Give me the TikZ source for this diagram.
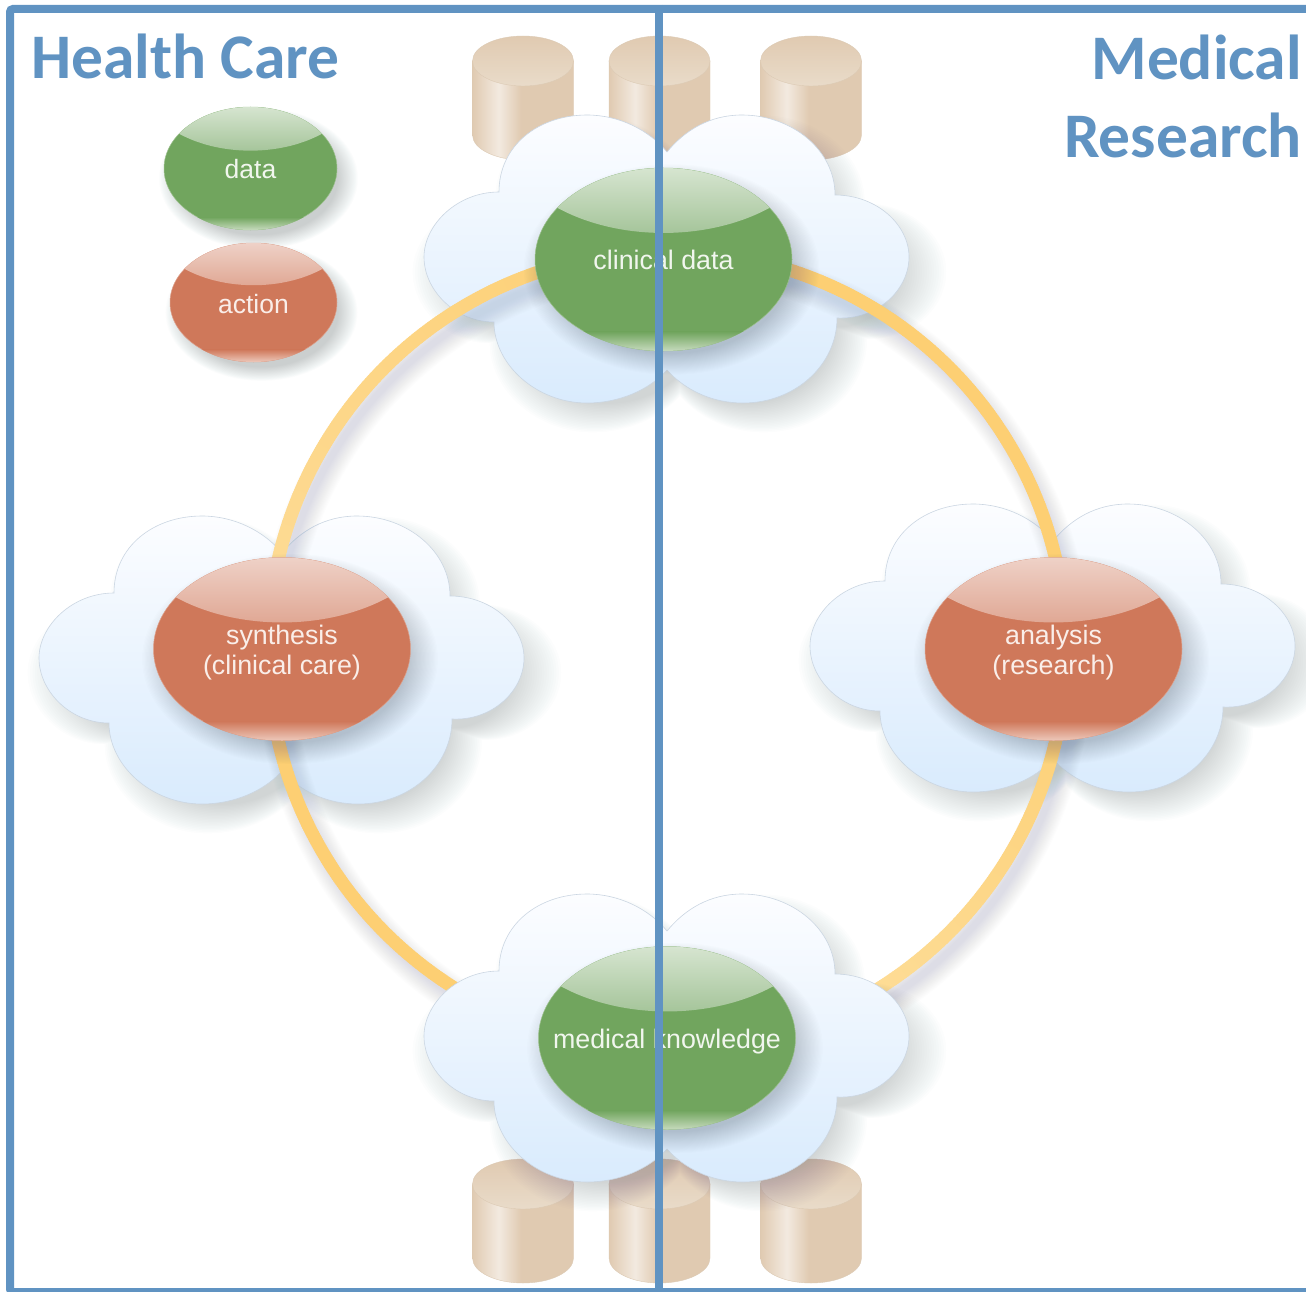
\documentclass[tikz,border=0pt]{standalone}
\usepackage{fontspec}
\setmainfont{Liberation Sans}
\newfontfamily\ttlfont{Carlito}
\usetikzlibrary{shapes.geometric,decorations.markings}
\pgfdeclarelayer{cyl}\pgfdeclarelayer{clouds}\pgfdeclarelayer{ringsh}\pgfdeclarelayer{ring}
\pgfdeclarelayer{cloudb}\pgfdeclarelayer{blobsh}\pgfdeclarelayer{gloss}\pgfdeclarelayer{frame}
\pgfsetlayers{cyl,clouds,ringsh,ring,cloudb,blobsh,main,gloss,frame}
\definecolor{framec}{HTML}{6093C2}
\definecolor{grnbase}{HTML}{71A55E}
\definecolor{grnhi}{HTML}{D8E6D2}
\definecolor{grnlo}{HTML}{9BBE8F}
\definecolor{grnend}{HTML}{CFE0C7}
\definecolor{grntxt}{HTML}{F1F6EE}
\definecolor{redbase}{HTML}{CF785A}
\definecolor{redhi}{HTML}{EFD3C9}
\definecolor{redlo}{HTML}{DD9F8A}
\definecolor{redend}{HTML}{F0D0C4}
\definecolor{redtxt}{HTML}{FAEEE9}
\definecolor{shadowc}{HTML}{4A5A70}
\definecolor{cloudtop}{HTML}{FCFDFF}
\definecolor{cloudbot}{HTML}{D9EBFD}
\definecolor{cloudedge}{HTML}{CBD6E2}
\definecolor{cyltopa}{HTML}{E0CAB1}
\definecolor{cyltopb}{HTML}{E9DBC9}
\definecolor{cyledge}{HTML}{DCCAB4}
\definecolor{ringa}{HTML}{FDCF73}
\definecolor{ringb}{HTML}{FEE3A8}
\definecolor{ringc}{HTML}{FDDC98}
\pgfdeclarehorizontalshading{cylside}{100bp}{color(0bp)=(cyltopa); color(25bp)=(cyltopa); color(38bp)=(white!60!cyltopa); color(49bp)=(cyltopa); color(75bp)=(cyltopa); color(100bp)=(cyltopa)}
\tikzset{
  blobnode/.style={shape=ellipse,inner sep=0pt,outer sep=0pt},
  labelstyle/.style={inner sep=0pt,align=center},
  cloudstyle/.style={top color=cloudtop,bottom color=cloudbot,draw=cloudedge,line width=0.6pt},
  titlestyle/.style={inner sep=0pt,text=framec,font={\ttlfont\bfseries\fontsize{63.5}{70}\selectfont}},
  framestyle/.style={draw=framec,line width=8pt},
  ringpiece/.style n args={2}{decorate,decoration={markings,
    mark=between positions 0 and 1 step 2pt with {
      \pgfmathsetmacro\ringp{100*(\pgfkeysvalueof{/pgf/decoration/mark info/distance from start}/\pgfdecoratedpathlength)}
      \colorlet{ringnow}{#2!\ringp!#1}
      \fill[ringnow] (-1.4,-6.5) rectangle (1.4,6.5);
    }}}
}
% cloud outline, centred on the current origin
\newcommand\cloudpath{(-168,-68) .. controls (-168,-115) and (-128,-145) .. (-80,-145)
  .. controls (-48,-145) and (-18,-130) .. (0,-108)
  .. controls (18,-130) and (43,-145) .. (75,-145)
  .. controls (125,-145) and (168,-110) .. (168,-65)
  .. controls (210,-65) and (242,-35) .. (242,-3)
  .. controls (242,30) and (210,60) .. (170,58)
  .. controls (170,105) and (128,143) .. (76,143)
  .. controls (45,143) and (18,130) .. (0,110)
  .. controls (-18,130) and (-48,143) .. (-80,143)
  .. controls (-130,143) and (-173,105) .. (-173,62)
  .. controls (-212,62) and (-243,30) .. (-243,-3)
  .. controls (-243,-35) and (-210,-68) .. (-168,-68) -- cycle}
\newcommand\softcloud[2]{%
  \foreach \s in {0.90,0.91,...,1.105}{
    \fill[shadowc,fill opacity=0.012,shift={(#1+13,#2+15)},scale=\s] \cloudpath;
  }
  \path[cloudstyle,shift={(#1,#2)}] \cloudpath;
}
\newcommand\cylinder[2]{%
  \begin{scope}[shift={(#1,#2)}]
    \path[draw=cyledge,line width=0.4pt,shading=cylside]
      (-50.5,0) -- (-50.5,74) .. controls (-50.5,87.8) and (-27.9,99) .. (0,99)
      .. controls (27.9,99) and (50.5,87.8) .. (50.5,74) -- (50.5,0) -- cycle;
    \path[draw=cyledge,line width=0.4pt,top color=cyltopa,bottom color=cyltopb]
      (0,0) ellipse [x radius=50.5,y radius=25];
  \end{scope}
}
% name, cx, cy, rx, ry, colour family, font size, label centre y, text
\newcommand\blob[9]{%
  \begin{pgfonlayer}{blobsh}
    \foreach \s in {0.92,0.93,...,1.155}{
      \fill[shadowc,fill opacity=0.012] (#2+8,#3+10) ellipse [x radius=#4*\s,y radius=#5*\s];
    }
  \end{pgfonlayer}
  \node[blobnode,minimum width=2*#4 pt,minimum height=2*#5 pt,
        fill=#6base,draw=#6base!70!white,line width=0.5pt] (#1) at (#2,#3) {};
  \begin{pgfonlayer}{gloss}
    \begin{scope}[shift={(#2,#3)},x=#4 pt,y=-#5 pt]
      \clip (0,0) ellipse [x radius=1,y radius=1];
      \shade[top color=#6hi,bottom color=#6lo]
        (-1.02,-1.03) -- (1.02,-1.03) -- (1.02,-0.75) .. controls (0.5,-0.137) and (-0.5,-0.137) .. (-1.02,-0.75) -- cycle;
      \shade[top color=#6base,bottom color=#6end] (-1.02,0.79) rectangle (1.02,1.02);
    \end{scope}
    \node[labelstyle,text=#6txt,font={\fontsize{#7}{30}\selectfont}] (#1label) at (#2,#8) {#9};
  \end{pgfonlayer}
}
\begin{document}
\begin{tikzpicture}[x=1pt,y=-1pt]
\useasboundingbox (0,0) rectangle (1306,1292);
\begin{pgfonlayer}{cyl}
  \fill[white] (0,0) rectangle (1306,1292);
  \foreach \cx in {523,659.5,811}{
    \cylinder{\cx}{61}
    \cylinder{\cx}{1184}
  }
\end{pgfonlayer}
\begin{pgfonlayer}{clouds}
  \softcloud{667}{260}
  \softcloud{282}{661}
  \softcloud{1053}{649}
\end{pgfonlayer}
\begin{pgfonlayer}{cloudb}
  \softcloud{667}{1039}
\end{pgfonlayer}
\blob{datakey}{250.5}{168.5}{86.5}{61.5}{grn}{26.5}{169}{data}
\blob{actionkey}{253.5}{302.5}{83.5}{59.5}{red}{26.5}{304}{action}
\blob{clinical}{663.5}{259.5}{128.5}{91.5}{grn}{26.8}{260}{clinical data}
\blob{synthesis}{282}{649}{128.5}{91.5}{red}{26.8}{653}{synthesis\\(clinical care)}
\blob{analysis}{1053.5}{649}{128.5}{91.5}{red}{26.8}{653}{analysis\\(research)}
\blob{medical}{667}{1038}{128.5}{91.5}{grn}{26.8}{1042}{medical knowledge}
% the ring's quarter points, hidden behind the four ellipses
\coordinate (ringtop) at (667,251);
\coordinate (ringright) at (1066,650);
\coordinate (ringbottom) at (667,1049);
\coordinate (ringleft) at (268,650);
\begin{pgfonlayer}{ringsh}
  \foreach \w in {6,8,...,38}{
    \draw[shadowc,draw opacity=0.007,line width=\w pt]
      ([shift={(7,12)}]ringtop) to[out=0,in=90] ([shift={(7,12)}]ringright)
      to[out=-90,in=0] ([shift={(7,12)}]ringbottom)
      to[out=180,in=-90] ([shift={(7,12)}]ringleft)
      to[out=90,in=180] ([shift={(7,12)}]ringtop);
  }
\end{pgfonlayer}
\begin{pgfonlayer}{ring}
  \path[ringpiece={ringa}{ringa}] (ringtop) to[out=0,in=90] (ringright);
  \path[ringpiece={ringa}{ringb}] (ringright) to[out=-90,in=0] (ringbottom);
  \path[ringpiece={ringa}{ringa}] (ringbottom) to[out=180,in=-90] (ringleft);
  \path[ringpiece={ringc}{ringa}] (ringleft) to[out=90,in=180] (ringtop);
\end{pgfonlayer}
\begin{pgfonlayer}{frame}
  \path[framestyle,rounded corners=3pt] (1320,9) -- (10,9) -- (10,1292) -- (1320,1292);
  \path[framestyle] (659,5) -- (659,1292);
\end{pgfonlayer}
\node[titlestyle,anchor=base west] (healthcare) at (31,78.5) {Health Care};
\node[titlestyle,anchor=base east] (medicalt) at (1302,80) {Medical};
\node[titlestyle,anchor=base east] (researcht) at (1302,157.5) {Research};
\end{tikzpicture}
\end{document}
